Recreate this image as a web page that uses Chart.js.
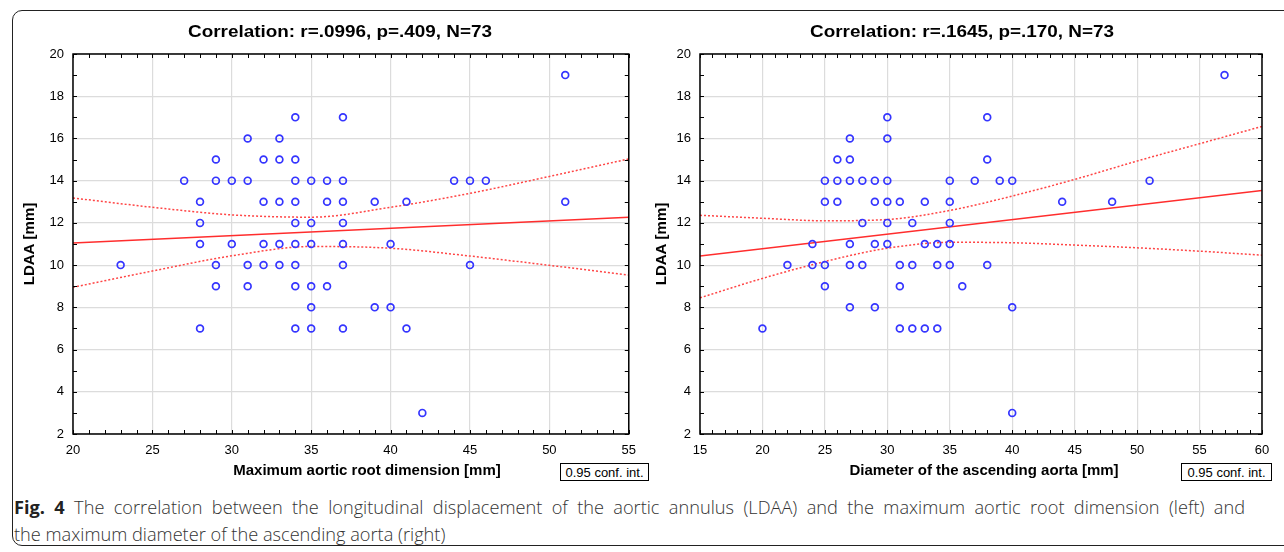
<!DOCTYPE html>
<html>
<head>
<meta charset="utf-8">
<script src="https://cdn.jsdelivr.net/npm/chart.js@4.4.1/dist/chart.umd.min.js"></script>
<style>
    body { margin: 0; background: #fff; }
    #fig { position: relative; width: 1284px; height: 552px; overflow: hidden; background: #fff; font-family: Arial, "Liberation Sans", sans-serif; }
    .frame { position: absolute; left: 12px; top: 10px; width: 1300px; height: 534px; border: 1.5px solid #222; border-radius: 10px; }
    #left { position: absolute; left: 0; top: 0; }
    #right { position: absolute; left: 645px; top: 0; }
    .conf { position: absolute; top: 463px; height: 18px; line-height: 18px; border: 1px solid #000; font-size: 13px; text-align: center; box-sizing: border-box; background: #fff; }
    .caption { position: absolute; left: 14px; top: 494px; width: 1231px; font-family: "Open Sans", sans-serif; font-weight: 300; font-size: 18.2px; line-height: 27px; color: #333; white-space: nowrap; }
    .caption .l1 { text-align: justify; text-align-last: justify; }
    .caption b { font-weight: 700; color: #222; }
</style>
</head>
<body>
<div id="fig">
    <div class="frame"></div>
    <canvas id="left" width="645" height="490"></canvas>
    <canvas id="right" width="639" height="490"></canvas>
    <div class="conf" style="left:560px;width:89px;">0.95 conf. int.</div>
    <div class="conf" style="left:1181px;width:91px;">0.95 conf. int.</div>
    <div class="caption">
        <div class="l1"><b>Fig. 4</b> The correlation between the longitudinal displacement of the aortic annulus (LDAA) and the maximum aortic root dimension (left) and</div>
        <div>the maximum diameter of the ascending aorta (right)</div>
    </div>
</div>
<script>
// Left panel: maximum aortic root dimension vs LDAA
const rootDim = [23, 27, 28, 28, 28, 28, 29, 29, 29, 29, 30, 30, 31, 31, 31, 31, 32, 32, 32, 32,
    33, 33, 33, 33, 33, 34, 34, 34, 34, 34, 34, 34, 34, 34, 35, 35, 35, 35, 35, 35, 36, 36, 36,
    37, 37, 37, 37, 37, 37, 37, 39, 39, 40, 40, 41, 41, 42, 44, 45, 45, 46, 51, 51];
const ldaaRoot = [10, 14, 13, 12, 11, 7, 15, 14, 10, 9, 14, 11, 16, 14, 10, 9, 15, 13, 11, 10,
    16, 15, 13, 11, 10, 17, 15, 14, 13, 12, 11, 10, 9, 7, 14, 12, 11, 9, 8, 7, 14, 13, 9,
    17, 14, 13, 12, 11, 10, 7, 13, 8, 11, 8, 13, 7, 3, 14, 14, 10, 14, 19, 13];

// Right panel: diameter of the ascending aorta vs LDAA
const ascAorta = [20, 22, 24, 24, 25, 25, 25, 25, 26, 26, 26, 27, 27, 27, 27, 27, 27, 28, 28, 28,
    29, 29, 29, 29, 30, 30, 30, 30, 30, 30, 31, 31, 31, 31, 32, 32, 32, 33, 33, 33, 34, 34, 34,
    35, 35, 35, 35, 35, 36, 37, 38, 38, 38, 39, 40, 40, 40, 44, 48, 51, 57];
const ldaaAsc = [7, 10, 11, 10, 14, 13, 10, 9, 15, 14, 13, 16, 15, 14, 11, 10, 8, 14, 12, 10,
    14, 13, 11, 8, 17, 16, 14, 13, 12, 11, 13, 10, 9, 7, 12, 10, 7, 13, 11, 7, 11, 10, 7,
    14, 13, 12, 11, 10, 9, 14, 17, 15, 10, 14, 14, 8, 3, 13, 13, 14, 19];

// regression lines and 0.95 confidence bands
const rootFitX = [20, 55];
const rootFitY = [11.05, 12.27];
const rootBandX = [20, 25, 30, 35, 40, 45, 50, 55];
const rootUpper = [13.18, 12.74, 12.38, 12.27, 12.74, 13.4, 14.2, 15.03];
const rootLower = [8.95, 9.72, 10.44, 10.88, 10.8, 10.43, 9.99, 9.53];

const ascFitX = [15, 60];
const ascFitY = [10.43, 13.54];
const ascBandX = [15, 20, 25, 30, 35, 40, 45, 50, 55, 60];
const ascUpper = [12.36, 12.22, 12.1, 12.16, 12.59, 13.27, 14.06, 14.93, 15.75, 16.57];
const ascLower = [8.45, 9.37, 10.17, 10.8, 11.08, 11.06, 10.95, 10.82, 10.66, 10.47];

const yTicks = [2, 4, 6, 8, 10, 12, 14, 16, 18, 20];

const pair = (xs, ys) => xs.map((x, i) => ({ x, y: ys[i] }));

// frame, inward minor ticks, bold title and x-axis title
const framePlugin = {
    id: 'frame',
    afterDraw(chart, args, opts) {
        const { ctx, chartArea: a, scales: { x, y } } = chart;
        ctx.save();
        ctx.strokeStyle = '#000';
        ctx.lineWidth = 1;
        ctx.beginPath();
        for (let v = x.min; v <= x.max; v++) {
            const px = Math.round(x.getPixelForValue(v)) + 0.5;
            ctx.moveTo(px, a.bottom); ctx.lineTo(px, a.bottom - 4);
            ctx.moveTo(px, a.top); ctx.lineTo(px, a.top + 4);
        }
        for (let v = y.min; v <= y.max; v++) {
            const py = Math.round(y.getPixelForValue(v)) + 0.5;
            ctx.moveTo(a.left, py); ctx.lineTo(a.left + 4, py);
            ctx.moveTo(a.right, py); ctx.lineTo(a.right - 4, py);
        }
        ctx.stroke();
        ctx.lineWidth = 1.5;
        ctx.strokeRect(a.left, a.top, a.right - a.left, a.bottom - a.top);

        ctx.fillStyle = '#000';
        ctx.textAlign = 'center';
        ctx.textBaseline = 'middle';
        ctx.font = 'bold 15px Arial, "Liberation Sans", sans-serif';
        ctx.fillText(opts.xTitle, opts.xTitleX, 471);

        // the title is set in a wide bold face: stretch Arial a little
        ctx.font = 'bold 16px Arial, "Liberation Sans", sans-serif';
        ctx.translate(opts.x, 33);
        ctx.scale(1.18, 1);
        ctx.fillText(opts.text, 0, 0);
        ctx.restore();
    },
};

function makeChart(canvas, cfg) {
    return new Chart(canvas.getContext('2d'), {
        type: 'scatter',
        data: {
            datasets: [
                {
                    data: pair(cfg.xs, cfg.ys),
                    pointStyle: 'circle',
                    pointRadius: 3.4,
                    pointBorderWidth: 1.7,
                    pointBorderColor: '#3535ff',
                    pointBackgroundColor: 'rgba(0,0,0,0)',
                },
                {
                    type: 'line',
                    data: pair(cfg.fitX, cfg.fitY),
                    borderColor: '#ff2d2d',
                    borderWidth: 1.5,
                    pointRadius: 0,
                },
                {
                    type: 'line',
                    data: pair(cfg.bandX, cfg.upper),
                    borderColor: '#ff4545',
                    borderWidth: 1.5,
                    borderDash: [2, 2],
                    cubicInterpolationMode: 'monotone',
                    pointRadius: 0,
                },
                {
                    type: 'line',
                    data: pair(cfg.bandX, cfg.lower),
                    borderColor: '#ff4545',
                    borderWidth: 1.5,
                    borderDash: [2, 2],
                    cubicInterpolationMode: 'monotone',
                    pointRadius: 0,
                },
            ],
        },
        options: {
            responsive: false,
            animation: false,
            events: [],
            layout: { padding: { top: 54, right: cfg.padRight, left: 0, bottom: 0 } },
            plugins: {
                legend: { display: false },
                tooltip: { enabled: false },
                frame: { text: cfg.title, x: cfg.titleX, xTitle: cfg.xTitle, xTitleX: cfg.xTitleX },
            },
            scales: {
                x: {
                    type: 'linear',
                    min: cfg.xMin,
                    max: cfg.xMax,
                    afterFit: (s) => { s.height = 56; },
                    grid: { color: '#dcdcdc', lineWidth: 1.2, drawTicks: false },
                    border: { display: false },
                    ticks: { stepSize: 5, padding: 9, color: '#000', font: { family: 'Arial', size: 13 } },
                },
                y: {
                    type: 'linear',
                    min: 2,
                    max: 20,
                    afterFit: (s) => { s.width = cfg.yWidth; },
                    afterBuildTicks: (s) => { s.ticks = yTicks.map(v => ({ value: v })); },
                    grid: { color: '#dcdcdc', lineWidth: 1.2, drawTicks: false },
                    border: { display: false },
                    ticks: { padding: 9, color: '#000', font: { family: 'Arial', size: 13 } },
                    title: {
                        display: true,
                        text: 'LDAA [mm]',
                        color: '#000',
                        font: { family: 'Arial', size: 15, weight: 'bold' },
                        padding: { top: cfg.yTitlePad, bottom: 0 },
                    },
                },
            },
        },
        plugins: [framePlugin],
    });
}

makeChart(document.getElementById('left'), {
    xs: rootDim, ys: ldaaRoot,
    fitX: rootFitX, fitY: rootFitY,
    bandX: rootBandX, upper: rootUpper, lower: rootLower,
    xMin: 20, xMax: 55,
    title: 'Correlation: r=.0996, p=.409, N=73', titleX: 340,
    xTitle: 'Maximum aortic root dimension [mm]', xTitleX: 367,
    yWidth: 73, yTitlePad: 21, padRight: 10,
});

makeChart(document.getElementById('right'), {
    xs: ascAorta, ys: ldaaAsc,
    fitX: ascFitX, fitY: ascFitY,
    bandX: ascBandX, upper: ascUpper, lower: ascLower,
    xMin: 15, xMax: 60,
    title: 'Correlation: r=.1645, p=.170, N=73', titleX: 317,
    xTitle: 'Diameter of the ascending aorta [mm]', xTitleX: 339,
    yWidth: 55, yTitlePad: 8, padRight: 22,
});
</script>
</body>
</html>
